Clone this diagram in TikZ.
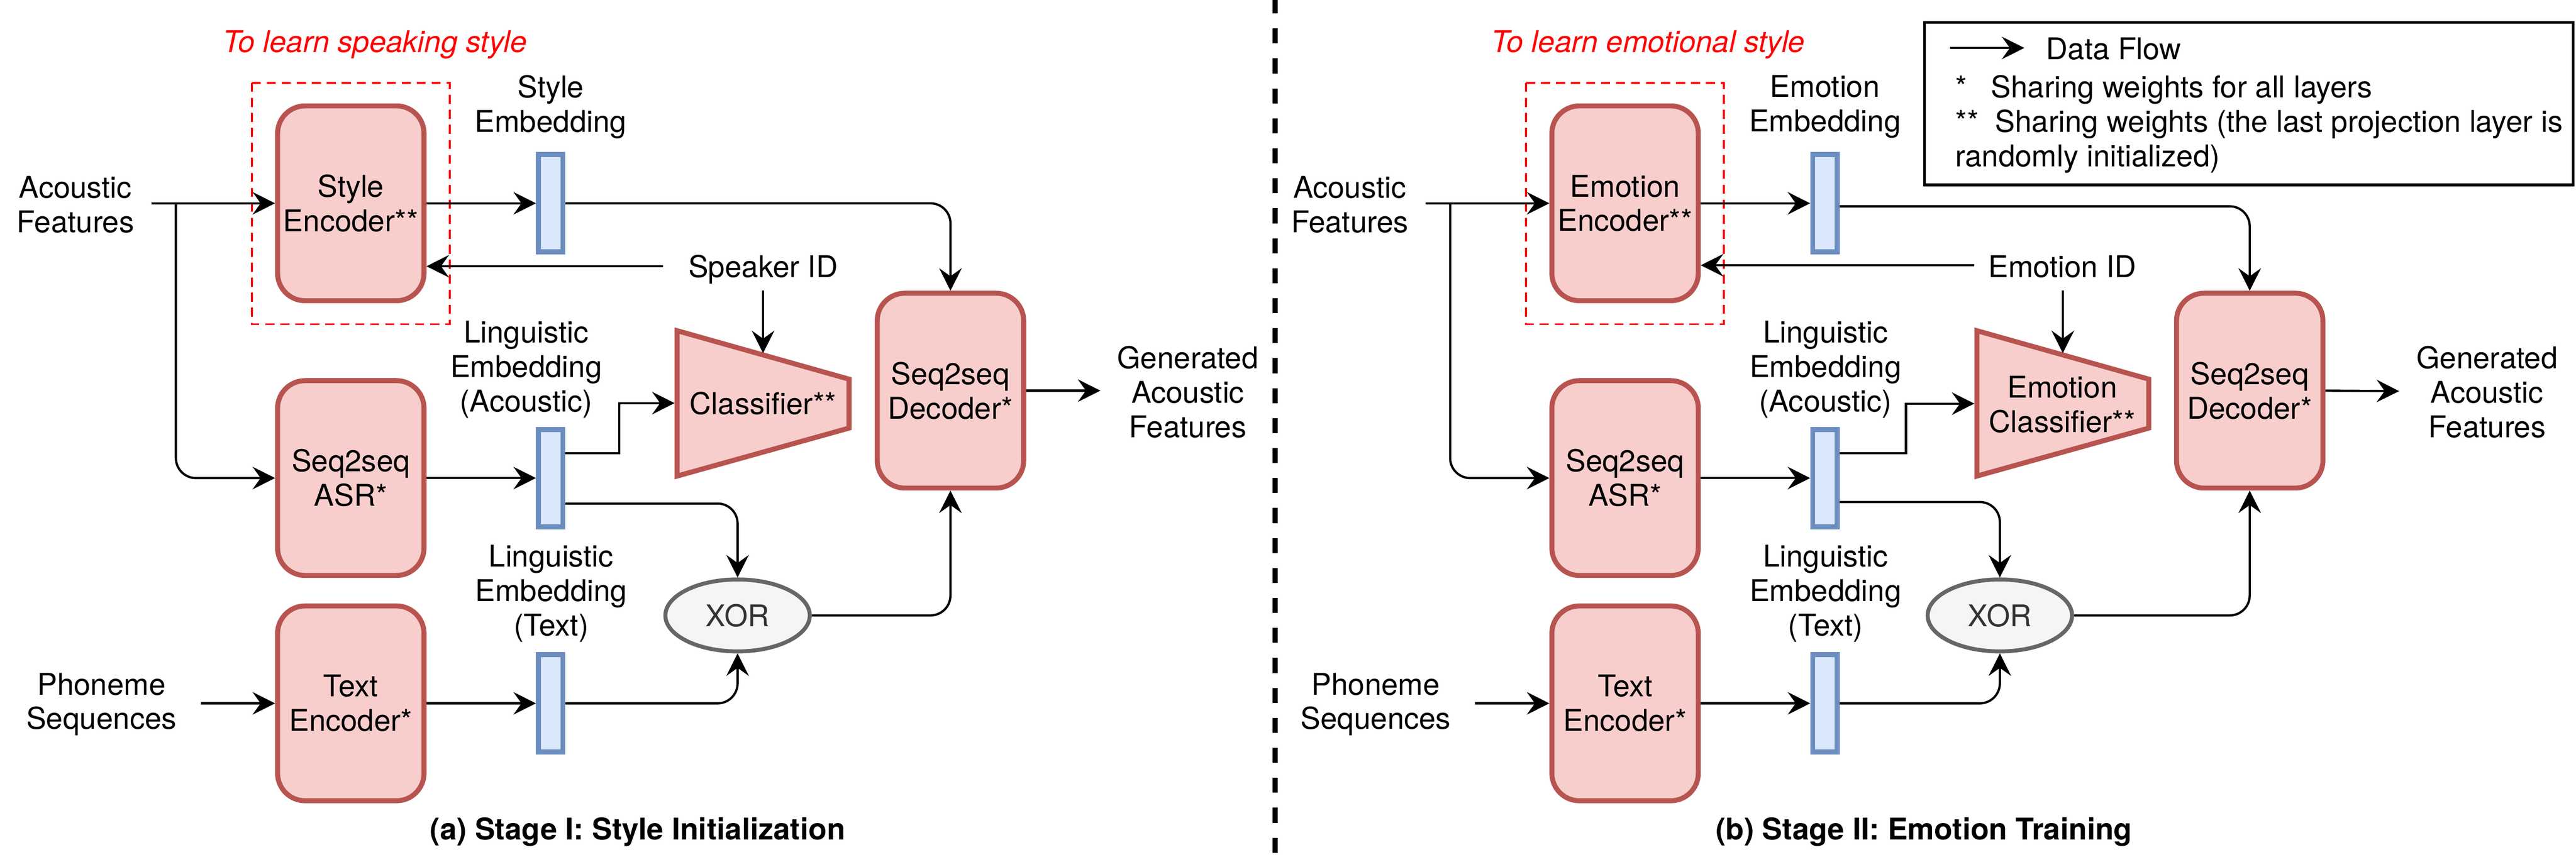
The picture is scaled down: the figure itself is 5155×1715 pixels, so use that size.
\documentclass[tikz,border=0pt]{standalone}
\usepackage{fontspec}
\setmainfont{TeX Gyre Heros}
\usetikzlibrary{arrows.meta,shapes.geometric,calc}
\definecolor{pinkF}{HTML}{F8CECC}
\definecolor{pinkD}{HTML}{B85450}
\definecolor{blueF}{HTML}{DAE8FC}
\definecolor{blueD}{HTML}{6C8EBF}
\definecolor{grayF}{HTML}{F5F5F5}
\definecolor{grayD}{HTML}{666666}
\definecolor{grayT}{HTML}{333333}
\definecolor{redT}{HTML}{FF0000}
\begin{document}
\begin{tikzpicture}[x=0.2pt,y=-0.2pt,
  font=\fontsize{12pt}{13.8pt}\selectfont,
  blk/.style={draw=pinkD,fill=pinkF,line width=2pt,rounded corners=11pt,minimum width=58.6pt,minimum height=78pt,align=center,inner sep=0pt},
  emb/.style={draw=blueD,fill=blueF,line width=2pt,minimum width=9.8pt,minimum height=39pt,inner sep=0pt},
  lbl/.style={align=center,inner sep=0pt},
  clsshape/.style={draw=pinkD,fill=pinkF,line width=2pt,line join=miter},
  xorshape/.style={ellipse,draw=grayD,fill=grayF,line width=1.6pt,minimum width=57.8pt,minimum height=28.8pt,inner sep=0pt,text=grayT},
  arr/.style={line width=0.9pt,-{Stealth[length=9pt,width=9pt,inset=3.2pt]}},
  ln/.style={line width=0.9pt},
  redbox/.style={draw=redT,line width=0.8pt,dash pattern=on 3.6pt off 2.4pt},
  ttl/.style={anchor=base,inner sep=0pt,text=redT,font=\fontsize{12pt}{13.8pt}\selectfont\itshape},
  captxt/.style={anchor=base,inner sep=0pt,font=\fontsize{12pt}{13.8pt}\selectfont\bfseries}
]
\useasboundingbox (0,0) rectangle (5155,1715);

% ================= (a) Stage I =================
\node[ttl] (tta) at (750,105) {To learn speaking style};
\draw[redbox] (504,166) rectangle (900,649);

\node[lbl] (afa) at (151,410) {Acoustic\\Features};
\node[lbl] (pha) at (203,1410) {Phoneme\\Sequences};

\node[blk] (se) at (702,407) {Style\\Encoder**};
\node[blk] (asra) at (702,957) {Seq2seq\\ASR*};
\node[blk] (tea) at (702,1408) {Text\\Encoder*};

\node[emb] (seb) at (1102,407) {};
\node[emb] (aeba) at (1102,957) {};
\node[emb] (teba) at (1102,1408) {};

\node[lbl] (sel) at (1102,214) {Style\\Embedding};
\node[lbl] (aela) at (1053,740) {Linguistic\\Embedding\\(Acoustic)};
\node[lbl] (tela) at (1103,1188) {Linguistic\\Embedding\\(Text)};

\node[anchor=base,inner sep=0pt] (spk) at (1527,555) {Speaker ID};

\coordinate (ca1) at (1355,662);
\coordinate (ca2) at (1699,759);
\coordinate (ca3) at (1699,857);
\coordinate (ca4) at (1355,953);
\draw[clsshape] (ca1) -- (ca2) -- (ca3) -- (ca4) -- cycle;
\node[lbl] (clsa) at (1527,808) {Classifier**};

\node[xorshape] (xora) at (1476,1232) {XOR};
\node[blk] (deca) at (1902,782) {Seq2seq\\Decoder*};
\node[lbl] (gena) at (2377,785) {Generated\\Acoustic\\Features};

\coordinate (afoa) at (303,407);
\coordinate (jna) at (352,407);
\coordinate (phoa) at (402,1408);
\coordinate (spkLa) at (1327,533);
\coordinate (spkDa) at (1527,582);
\coordinate (clsTa) at (1527,707);
\coordinate (brXa) at (1239,907);
\coordinate (brYa) at (1239,807);
\coordinate (clsLa) at (1350,807);
\coordinate (genIa) at (2202,782);

\draw[arr] (afoa) -- (se.west);
\draw[arr,rounded corners=8pt] (jna) |- (asra.west);
\draw[arr] (phoa) -- (tea.west);
\draw[arr] (se.east) -- (seb.west);
\draw[arr] (asra.east) -- (aeba.west);
\draw[arr] (tea.east) -- (teba.west);
\draw[arr,rounded corners=8pt] (seb.east) -| (deca.north);
\draw[arr] (spkLa) -- (se.east |- spkLa);
\draw[arr] (spkDa) -- (clsTa);
\draw[arr] ($(aeba.east)+(0,-50)$) -- (brXa) -- (brYa) -- (clsLa);
\draw[arr,rounded corners=8pt] ($(aeba.east)+(0,51)$) -| (xora.north);
\draw[arr,rounded corners=8pt] (teba.east) -| (xora.south);
\draw[arr,rounded corners=8pt] (xora.east) -| (deca.south);
\draw[arr] (deca.east) -- (genIa);

\node[captxt] (capa) at (1276,1681) {(a) Stage I: Style Initialization};

% ================= divider =================
\coordinate (dvT) at (2552,0);
\coordinate (dvB) at (2552,1715);
\draw[line width=2pt,dash pattern=on 6pt off 6pt,dash phase=0.6pt] (dvT) -- (dvB);

% ================= (b) Stage II =================
\node[ttl] (ttb) at (3298,105) {To learn emotional style};
\draw[redbox] (3054,166) rectangle (3450,649);

\node[lbl] (afb) at (2701,410) {Acoustic\\Features};
\node[lbl] (phb) at (2753,1410) {Phoneme\\Sequences};

\node[blk] (ee) at (3252,407) {Emotion\\Encoder**};
\node[blk] (asrb) at (3252,957) {Seq2seq\\ASR*};
\node[blk] (teb) at (3252,1408) {Text\\Encoder*};

\node[emb] (eeb) at (3652,407) {};
\node[emb] (aebb) at (3652,957) {};
\node[emb] (tebb) at (3652,1408) {};

\node[lbl] (eel) at (3652,214) {Emotion\\Embedding};
\node[lbl] (aelb) at (3653,740) {Linguistic\\Embedding\\(Acoustic)};
\node[lbl] (telb) at (3653,1188) {Linguistic\\Embedding\\(Text)};

\node[anchor=base,inner sep=0pt] (eid) at (4127,555) {Emotion ID};

\coordinate (cb1) at (3956,662);
\coordinate (cb2) at (4300,759);
\coordinate (cb3) at (4300,857);
\coordinate (cb4) at (3956,953);
\draw[clsshape] (cb1) -- (cb2) -- (cb3) -- (cb4) -- cycle;
\node[lbl] (clsb) at (4127,810) {Emotion\\Classifier**};

\node[xorshape] (xorb) at (4002,1232) {XOR};
\node[blk] (decb) at (4502,782) {Seq2seq\\Decoder*};
\node[lbl] (genb) at (4977,785) {Generated\\Acoustic\\Features};

\coordinate (afob) at (2853,407);
\coordinate (jnb) at (2902,407);
\coordinate (phob) at (2952,1408);
\coordinate (spkLb) at (3951,531);
\coordinate (spkDb) at (4128,582);
\coordinate (clsTb) at (4128,707);
\coordinate (brXb) at (3814,907);
\coordinate (brYb) at (3814,808);
\coordinate (clsLb) at (3951,808);
\coordinate (genIb) at (4801,783);

\draw[arr] (afob) -- (ee.west);
\draw[arr,rounded corners=8pt] (jnb) |- (asrb.west);
\draw[arr] (phob) -- (teb.west);
\draw[arr] (ee.east) -- (eeb.west);
\draw[arr] (asrb.east) -- (aebb.west);
\draw[arr] (teb.east) -- (tebb.west);
\draw[arr,rounded corners=8pt] ($(eeb.east)+(0,6)$) -| (decb.north);
\draw[arr] (spkLb) -- (ee.east |- spkLb);
\draw[arr] (spkDb) -- (clsTb);
\draw[arr] ($(aebb.east)+(0,-50)$) -- (brXb) -- (brYb) -- (clsLb);
\draw[arr,rounded corners=8pt] ($(aebb.east)+(0,48)$) -| (xorb.north);
\draw[arr,rounded corners=8pt] (tebb.east) -| (xorb.south);
\draw[arr,rounded corners=8pt] (xorb.east) -| (decb.south);
\draw[arr] (decb.east) -- (genIb);

\node[captxt] (capb) at (3850,1681) {(b) Stage II: Emotion Training};

% ================= legend =================
\draw[line width=1.1pt] (3851,45) rectangle (5149,370);
\coordinate (lgA) at (3902,96);
\coordinate (lgB) at (4051,96);
\draw[arr] (lgA) -- (lgB);
\node[anchor=base west,inner sep=0pt] (lgt) at (4094,119) {Data Flow};
\node[anchor=north west,inner sep=0pt,align=left] (lgs) at (3912,150) {*\hspace{9.6pt}Sharing weights for all layers\\**\hspace{6.6pt}Sharing weights (the last projection layer is\\randomly initialized)};
\end{tikzpicture}
\end{document}
